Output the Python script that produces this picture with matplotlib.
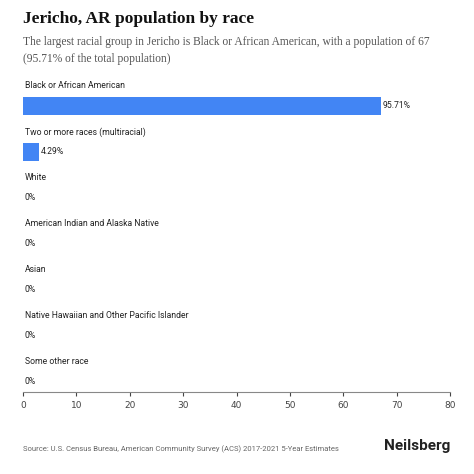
import matplotlib
matplotlib.use("Agg")
import matplotlib.pyplot as plt

categories = ["Black or African American", "Two or more races (multiracial)", "White",
              "American Indian and Alaska Native", "Asian",
              "Native Hawaiian and Other Pacific Islander", "Some other race"]
values = [67, 3, 0, 0, 0, 0, 0]
labels = ["95.71%", "4.29%", "0%", "0%", "0%", "0%", "0%"]
xticks = [0, 10, 20, 30, 40, 50, 60, 70, 80]

fig = plt.figure(figsize=(4.74, 4.74), dpi=100)
ax = fig.add_axes([23/474, 1-392/474, 427/474, 314/474])
ax.set_xlim(0, 80)
ax.set_ylim(314, 0)
for i, (c, v, l) in enumerate(zip(categories, values, labels)):
    yb = 28 + 46*i
    ax.text(0.3, 8 + 46*i, c, fontsize=6.2, va="center", ha="left", color="#222", family="Roboto")
    if v > 0:
        ax.barh(yb, v, height=18, color="#4285f4")
    ax.text(v + 0.3, yb, l, fontsize=6.2, va="center", ha="left", color="#222", family="Roboto")
ax.set_xticks(xticks)
ax.tick_params(axis="x", labelsize=6.5, colors="#444", length=3)
ax.set_yticks([])
for s in ["top", "right", "left"]:
    ax.spines[s].set_visible(False)
ax.spines["bottom"].set_color("#888")

fig.text(23/474, 1-19/474, "Jericho, AR population by race", fontsize=12.5, fontweight="bold",
         va="center", family="Liberation Serif", color="#111")
fig.text(23/474, 1-42/474, "The largest racial group in Jericho is Black or African American, with a population of 67",
         fontsize=8.3, va="center", family="Liberation Serif", color="#555")
fig.text(23/474, 1-59/474, "(95.71% of the total population)",
         fontsize=8.3, va="center", family="Liberation Serif", color="#555")
fig.text(23/474, 1-449/474, "Source: U.S. Census Bureau, American Community Survey (ACS) 2017-2021 5-Year Estimates",
         fontsize=5.5, va="center", color="#666", family="Roboto")
fig.text(450/474, 1-446/474, "Neilsberg", fontsize=11, fontweight="bold", va="center", ha="right",
         color="#222", family="Roboto")
fig.savefig("out.png", dpi=100)
